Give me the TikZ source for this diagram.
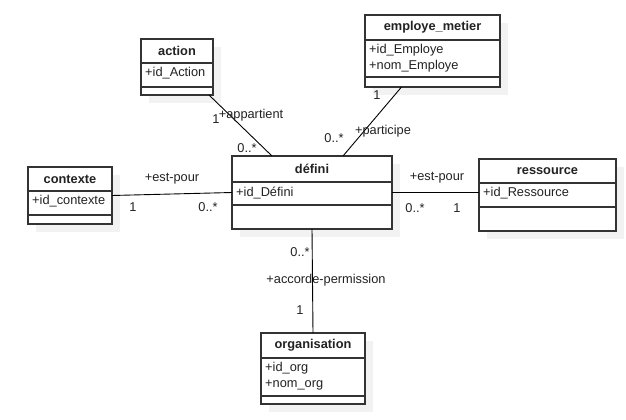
\documentclass[tikz,border=0pt]{standalone}
\usepackage{fontspec}
\setmainfont{Liberation Sans}
\definecolor{boxc}{HTML}{333333}
\definecolor{txtc}{HTML}{222222}
\definecolor{shadowc}{HTML}{F2F2F2}
\tikzset{
  classbox/.style={draw=boxc, line width=1.2pt, fill=white, rectangle, inner sep=0pt, outer sep=0pt},
  sepline/.style={draw=boxc, line width=1.2pt},
  titletext/.style={font=\fontsize{12.8}{14}\selectfont\bfseries, text=txtc, inner sep=0pt},
  attrtext/.style={font=\fontsize{12.8}{15.5}\selectfont, text=txtc, inner sep=0pt, anchor=north west, align=left},
  lbl/.style={font=\fontsize{12.8}{14}\selectfont, text=txtc, inner sep=0pt},
  assoc/.style={draw=black, line width=0.9pt},
}
% name, left, top, right, bottom, sep1, sep2, title, attributes
\newcommand{\umlclass}[9]{%
  \fill[shadowc] (#2+8,#3+8) rectangle (#4+8,#5+8);
  \node[classbox, minimum width={#4-#2}, minimum height={#5-#3}] (#1) at ({(#2+#4)/2},{(#3+#5)/2}) {};
  \draw[sepline] (#2,#6) -- (#4,#6);
  \draw[sepline] (#2,#7) -- (#4,#7);
  \node[titletext] (#1-title) at ({(#2+#4)/2},{(#3+#6)/2}) {#8};
  \node[attrtext] (#1-attrs) at (#2+4,#6+4.5) {#9};
}
\begin{document}
\begin{tikzpicture}[x=1pt, y=-1pt]
\useasboundingbox[fill=white] (0,0) rectangle (626,420);

\umlclass{action}{141}{39}{213}{95}{63}{87}{action}{+id\_Action}
\umlclass{employe}{365}{15}{500}{87}{40}{77}{employe\_metier}{+id\_Employe\\+nom\_Employe}
\umlclass{contexte}{28}{167}{112}{224}{191}{215}{contexte}{+id\_contexte}
\umlclass{defini}{232}{156}{392}{229}{182}{205}{défini}{+id\_Défini}
\umlclass{ressource}{479}{159}{616}{231}{183}{207}{ressource}{+id\_Ressource}
\umlclass{organisation}{261}{333}{365}{404}{358}{396}{organisation}{+id\_org\\+nom\_org}

% connectors
\draw[assoc] ([xshift=-4pt]action.south east) -- ([xshift=-40pt]defini.north);
\draw[assoc] ([xshift=-31pt]employe.south) -- ([xshift=31pt]defini.north);
\draw[assoc] (contexte.east) -- (defini.west);
\draw[assoc] (defini.east) -- (defini.east -| ressource.west);
\draw[assoc] (defini.south) -- (organisation.north);

% labels
\node[lbl] (l1) at (251,115) {+appartient};
\node[lbl] (l2) at (216,119) {1};
\node[lbl] (l3) at (247,148) {0..*};

\node[lbl] (l4) at (383,131) {+participe};
\node[lbl] (l5) at (377,95) {1};
\node[lbl] (l6) at (334,138) {0..*};

\node[lbl] (l7) at (172,179) {+est-pour};
\node[lbl] (l8) at (133,207) {1};
\node[lbl] (l9) at (208,207) {0..*};

\node[lbl] (l10) at (437,178) {+est-pour};
\node[lbl] (l11) at (415,208) {0..*};
\node[lbl] (l12) at (457,208) {1};

\node[lbl] (l13) at (300,252) {0..*};
\node[lbl] (l14) at (326,280) {+accorde-permission};
\node[lbl] (l15) at (300,310) {1};
\end{tikzpicture}
\end{document}
